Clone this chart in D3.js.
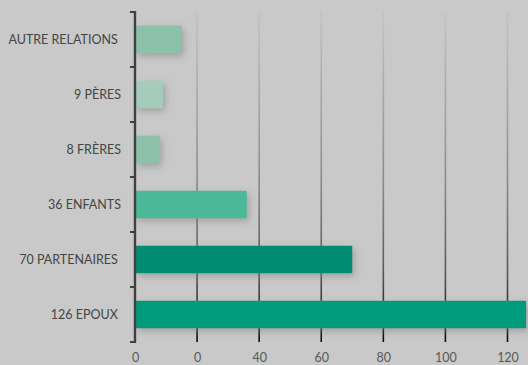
<!DOCTYPE html>
<html>
<head>
<meta charset="utf-8">
<script src="https://cdn.jsdelivr.net/npm/d3@7/dist/d3.min.js"></script>
<style>
  html, body { margin: 0; padding: 0; background: #c8c9c8; }
  svg { display: block; }
  text { white-space: pre; }
</style>
</head>
<body>
<script>
// Relations, top to bottom, with their counts
const categories = ["AUTRE RELATIONS ", "9 PÈRES", "8 FRÈRES", "36 ENFANTS", "70 PARTENAIRES ", "126 EPOUX "];
const values = [15, 9, 8, 36, 70, 126];
const barColors = ["#8cc0a9", "#a4cbbb", "#8cc0a9", "#4bb897", "#008c72", "#009b7b"];
const tickValues = [0, 20, 40, 60, 80, 100, 120];
const tickLabels = ["0", "0", "40", "60", "80", "100", "120"];

const W = 528, H = 365;
const svg = d3.select("body").append("svg").attr("width", W).attr("height", H);

svg.append("rect").attr("width", W).attr("height", H).attr("fill", "#c8c9c8");

const defs = svg.append("defs");
const grad = defs.append("linearGradient")
  .attr("id", "gridFade")
  .attr("gradientUnits", "userSpaceOnUse")
  .attr("x1", 0).attr("y1", 12).attr("x2", 0).attr("y2", 342);
grad.append("stop").attr("offset", 0).attr("stop-color", "#c2c3c2");
grad.append("stop").attr("offset", 0.5).attr("stop-color", "#8c8c8c");
grad.append("stop").attr("offset", 0.8).attr("stop-color", "#555");
grad.append("stop").attr("offset", 1).attr("stop-color", "#0a0a0a");

const shadow = defs.append("filter").attr("id", "barShadow")
  .attr("x", "-20%").attr("y", "-50%").attr("width", "140%").attr("height", "200%");
shadow.append("feDropShadow")
  .attr("dx", 2).attr("dy", 3).attr("stdDeviation", 3.5)
  .attr("flood-color", "#7d7d7d").attr("flood-opacity", 0.55);

const x = d3.scaleLinear().domain([0, 120]).range([135, 507.5]);
const y = d3.scaleBand().domain(categories).range([12, 342])
  .paddingInner(0.5).paddingOuter(0.25);

// vertical gridlines
svg.append("g").selectAll("line")
  .data(tickValues.filter(d => d > 0))
  .join("line")
  .attr("x1", d => x(d)).attr("x2", d => x(d))
  .attr("y1", 12).attr("y2", 342)
  .attr("stroke", "url(#gridFade)")
  .attr("stroke-width", 1.6);

// bars
svg.append("g").attr("filter", "url(#barShadow)")
  .selectAll("rect")
  .data(values)
  .join("rect")
  .attr("x", x(0) + 1)
  .attr("y", (d, i) => y(categories[i]))
  .attr("width", d => x(d) - x(0) - 1)
  .attr("height", y.bandwidth())
  .attr("fill", (d, i) => barColors[i]);

// category axis with ticks on band boundaries
const axis = svg.append("g");
const [y0, y1] = y.range();
axis.append("line")
  .attr("x1", x(0)).attr("x2", x(0))
  .attr("y1", y0 - 1).attr("y2", y1 + 1)
  .attr("stroke", "#404040").attr("stroke-width", 2.4);
axis.selectAll("line.tick")
  .data(d3.range(categories.length + 1))
  .join("line")
  .attr("class", "tick")
  .attr("x1", x(0) - 5).attr("x2", x(0))
  .attr("y1", i => y0 + i * y.step()).attr("y2", i => y0 + i * y.step())
  .attr("stroke", "#404040").attr("stroke-width", 2);

axis.selectAll("text")
  .data(categories)
  .join("text")
  .attr("x", 121)
  .attr("y", d => y(d) + y.bandwidth() / 2)
  .attr("dy", "0.35em")
  .attr("text-anchor", "end")
  .attr("font-family", "Lato, 'Open Sans', sans-serif")
  .attr("font-size", 12.5)
  .attr("fill", "#454545")
  .text(d => d);

// value axis labels
const xAxis = d3.axisBottom(x)
  .tickValues(tickValues)
  .tickFormat((d, i) => tickLabels[i])
  .tickSize(0)
  .tickPadding(0);
const gx = svg.append("g").attr("transform", "translate(0,362)").call(xAxis);
gx.select(".domain").remove();
gx.selectAll("text")
  .attr("dy", "0")
  .attr("font-family", "Lato, 'Open Sans', sans-serif")
  .attr("font-size", 12.5)
  .attr("fill", "#595959");
</script>
</body>
</html>
